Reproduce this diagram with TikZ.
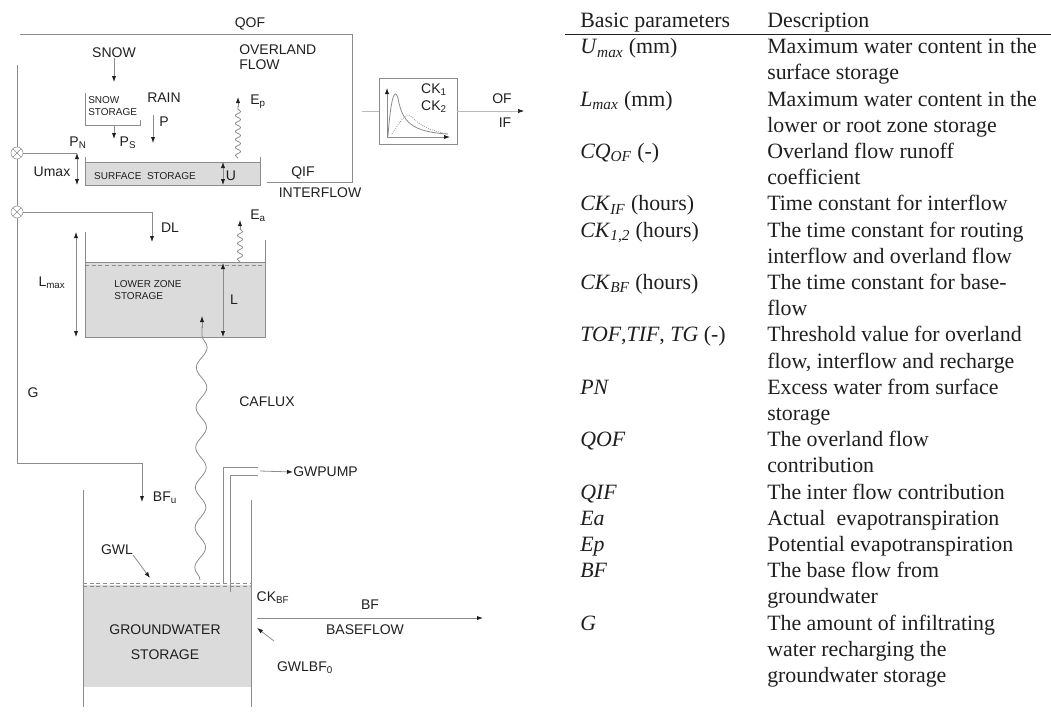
\documentclass[tikz,border=0pt]{standalone}
\usepackage{fontspec}
\setmainfont{Liberation Serif}
\setsansfont{Liberation Sans}
\usetikzlibrary{arrows.meta,decorations.pathmorphing}

\definecolor{pipegray}{gray}{0.55}
\definecolor{storegray}{gray}{0.86}
\definecolor{inkgray}{gray}{0.12}

\begin{document}
\begin{tikzpicture}[x=0.75pt,y=-0.75pt,>={Latex[length=4.5pt,width=3.2pt,color=inkgray]},
  pipe/.style={pipegray,line width=0.6pt},
  lbl/.style={font=\sffamily\fontsize{10.5}{11.5}\selectfont,text=inkgray,inner sep=0pt},
  smalllbl/.style={font=\sffamily\fontsize{7.5}{9.5}\selectfont,text=inkgray,inner sep=0pt,align=left},
  wavy/.style={pipe,decorate,decoration={snake,amplitude=2pt,segment length=6pt}},
  junction/.style={circle,draw=pipegray,fill=white,minimum size=9pt,inner sep=0pt,
    path picture={\draw[pipegray] (path picture bounding box.north west) -- (path picture bounding box.south east)
      (path picture bounding box.south west) -- (path picture bounding box.north east);}},
  tabtext/.style={font=\fontsize{16.4}{19.6}\selectfont,text=inkgray,anchor=base west,inner sep=0pt}]
\useasboundingbox (0,0) rectangle (1051,715);

% ---- surface zone ----
\draw[pipe] (20,34) -- (352,34) -- (352,182) -- (267,182);
\node[lbl] (qof) at (250,24) {QOF};
\node[lbl,align=left,anchor=west] (olflow) at (239,57.5) {OVERLAND\\FLOW};
\draw[pipe] (17,65) -- (17,463) -- (142,463);
\coordinate (gout) at (142,502);
\draw[pipe,->] (142,463) -- (gout);

\node[lbl] (snow) at (114,53) {SNOW};
\draw[pipe] (85,93) -- (85,125) -- (140,125) -- (140,120);
\node[smalllbl,anchor=west] (snowst) at (88,106) {SNOW\\STORAGE};
\coordinate (snowtop) at (114,82);
\draw[pipe,->] (snow) -- (snowtop);
\coordinate (psend) at (114,139);
\draw[pipe,->] (114,125) -- (psend);
\node[lbl] (ps) at (128,143) {P\textsubscript{S}};
\node[lbl] (rain) at (164,98) {RAIN};
\node[lbl] (p) at (164,122) {P};
\coordinate (pend) at (153,143);
\draw[pipe,->] (153,115) -- (pend);

\node[junction] (jup) at (17,153) {};
\coordinate (umaxtop) at (77,153);
\draw[pipe] (jup) -- (umaxtop);
\node[lbl] (pn) at (78,143) {P\textsubscript{N}};
\draw[pipe,<->] (umaxtop) -- (77,185);
\node[lbl] (umax) at (52,172) {Umax};

\fill[storegray] (85,162) rectangle (260,185);
\draw[pipe] (85,157) -- (85,185) -- (260,185) -- (260,157);
\draw[pipe] (85,162) -- (260,162);
\node[smalllbl] (surfst) at (145,176) {SURFACE\ \ STORAGE};
\draw[pipe,<->] (223,162) -- (223,185);
\node[lbl] (u) at (231,176) {U};
\node[lbl] (qif) at (303,173) {QIF};
\node[lbl] (intflow) at (320,193) {INTERFLOW};

\draw[wavy] (238,158) -- (238,106);
\draw[pipe,->] (238,107) -- (238,97);
\node[lbl] (ep) at (258,102) {E\textsubscript{p}};

% ---- routing box ----
\node[draw=pipegray,minimum width=58.5pt,minimum height=49.5pt,inner sep=0pt] (ck) at (418,111) {};
\draw[pipe,->] (387,137) -- (387,88);
\draw[pipe,->] (387,137) -- (450,137);
\draw[pipe] (388,136) .. controls (391,95) and (395,88) .. (398,98) .. controls (402,122) and (412,132) .. (448,134);
\draw[pipe,densely dotted] (392,134) .. controls (400,122) and (405,112) .. (412,117) .. controls (420,126) and (432,131) .. (448,134);
\node[lbl] (ckone) at (434,90) {CK\textsubscript{1}};
\node[lbl] (cktwo) at (434,107) {CK\textsubscript{2}};
\draw[pipegray!60] (362,111) -- (ck.west);
\coordinate (ofout) at (524,111);
\draw[pipegray!60,->] (ck.east) -- (ofout);
\node[lbl] (of) at (502,99) {OF};
\node[lbl] (if) at (505,123) {IF};

% ---- lower zone ----
\node[junction] (jlow) at (17,212) {};
\coordinate (dlcorner) at (152,212);
\draw[pipe] (jlow) -- (dlcorner);
\draw[pipe,->] (dlcorner) -- (152,242);
\node[lbl] (dl) at (170,228) {DL};

\draw[wavy] (240,262) -- (240,228);
\draw[pipe,->] (240,230) -- (240,220);
\node[lbl] (ea) at (258,216) {E\textsubscript{a}};

\fill[storegray] (85,263) rectangle (265,337);
\draw[pipe] (85,232) -- (85,337) -- (265,337) -- (265,240);
\draw[pipe] (85,262) -- (265,262);
\draw[pipe,densely dashed] (85,265) -- (265,265);
\draw[pipe,<->] (76,232) -- (76,337);
\node[lbl] (lmax) at (52,283) {L\textsubscript{max}};
\draw[pipe,<->] (223,263) -- (223,337);
\node[lbl] (l) at (234,300) {L};
\node[smalllbl] (lowst) at (148,290) {LOWER ZONE\\STORAGE};

\draw[pipe,decorate,decoration={snake,amplitude=4pt,segment length=30pt}] (200,580) -- (202,326);
\draw[pipe,->] (202,328) -- (202,316);
\node[lbl] (caflux) at (267,402) {CAFLUX};
\node[lbl] (g) at (33,393) {G};

% ---- groundwater ----
\node[lbl] (bfu) at (165,498) {BF\textsubscript{u}};
\fill[storegray] (83,585) rectangle (251,687);
\draw[pipe] (83,490) -- (83,707);
\draw[pipe] (251,500) -- (251,707);
\draw[pipe,densely dashed] (83,583) -- (251,583);
\draw[pipe,densely dashed] (83,586) -- (251,586);
\node[lbl,align=center,font=\sffamily\fontsize{10.5}{18.75}\selectfont] (gwst) at (165,642) {GROUNDWATER\\STORAGE};
\node[lbl] (gwl) at (117,550) {GWL};
\coordinate (gwlpt) at (150,578);
\draw[pipe,->] (133,555) -- (gwlpt);

\draw[pipe] (223,583) -- (223,467) -- (258,467);
\draw[pipe] (230,592) -- (230,475) -- (258,475);
\node[lbl,anchor=west] (gwpump) at (293,472) {GWPUMP};
\draw[pipe,->] (260,471) -- (gwpump.west);

\node[lbl] (ckbf) at (273,598) {CK\textsubscript{BF}};
\coordinate (bfout) at (483,618);
\draw[pipe,->] (257,618) -- (bfout);
\node[lbl] (bf) at (370,605) {BF};
\node[lbl] (baseflow) at (365,630) {BASEFLOW};
\node[lbl] (gwlbf) at (305,668) {GWLBF\textsubscript{0}};
\coordinate (gwlbfpt) at (257,628);
\draw[pipe,->] (274,641) -- (gwlbfpt);

% ---- parameter table ----
\node[tabtext] (hpar) at (580,27.5) {Basic parameters};
\node[tabtext] (hdesc) at (767,27.5) {Description};
\draw[inkgray,line width=0.6pt] (565,34) -- (1051,34);

\node[tabtext] (p-umax) at (580,{27.5+26.2*1}) {\textit{U}\textsubscript{\textit{max}} (mm)};
\node[tabtext] (p-lmax) at (580,{27.5+26.2*3}) {\textit{L}\textsubscript{\textit{max}} (mm)};
\node[tabtext] (p-cqof) at (580,{27.5+26.2*5}) {\textit{CQ}\textsubscript{\textit{OF}} (-)};
\node[tabtext] (p-ckif) at (580,{27.5+26.2*7}) {\textit{CK}\textsubscript{\textit{IF}} (hours)};
\node[tabtext] (p-ckr) at (580,{27.5+26.2*8}) {\textit{CK}\textsubscript{\textit{1,2}} (hours)};
\node[tabtext] (p-ckbf) at (580,{27.5+26.2*10}) {\textit{CK}\textsubscript{\textit{BF}} (hours)};
\node[tabtext] (p-thr) at (580,{27.5+26.2*12}) {\textit{TOF},\textit{TIF}, \textit{TG} (-)};
\node[tabtext] (p-pn) at (580,{27.5+26.2*14}) {\textit{PN}};
\node[tabtext] (p-qof) at (580,{27.5+26.2*16}) {\textit{QOF}};
\node[tabtext] (p-qif) at (580,{27.5+26.2*18}) {\textit{QIF}};
\node[tabtext] (p-ea) at (580,{27.5+26.2*19}) {\textit{Ea}};
\node[tabtext] (p-ep) at (580,{27.5+26.2*20}) {\textit{Ep}};
\node[tabtext] (p-bf) at (580,{27.5+26.2*21}) {\textit{BF}};
\node[tabtext] (p-g) at (580,{27.5+26.2*23}) {\textit{G}};

\foreach \n/\txt in {1/Maximum water content in the, 2/surface storage,
  3/Maximum water content in the, 4/lower or root zone storage,
  5/Overland flow runoff, 6/coefficient, 7/Time constant for interflow,
  8/The time constant for routing, 9/interflow and overland flow,
  10/The time constant for base-, 11/flow, 12/Threshold value for overland,
  13/{flow, interflow and recharge}, 14/Excess water from surface, 15/storage,
  16/The overland flow, 17/contribution, 18/The inter flow contribution,
  19/Actual\ \ evapotranspiration, 20/Potential evapotranspiration,
  21/The base flow from, 22/groundwater, 23/The amount of infiltrating,
  24/water recharging the, 25/groundwater storage}
  \node[tabtext] (d-\n) at (767,{27.5+26.2*\n}) {\txt};
\end{tikzpicture}
\end{document}
